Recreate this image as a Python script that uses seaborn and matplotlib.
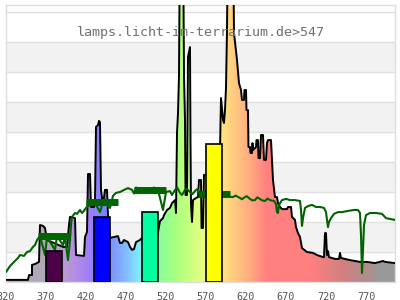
import numpy as np
import matplotlib
matplotlib.use("Agg")
import matplotlib.pyplot as plt
from matplotlib.colors import LinearSegmentedColormap
from matplotlib.patches import Polygon
import seaborn as sns

# ---- data (wavelength nm, relative intensity) ----
spectrum = [
    (320, 0.7), (347.5, 0.7), (348.75, 2.3), (352.5, 2.3), (352.5, 5.7), (356.25, 6),
    (361.25, 6.7), (362.5, 19), (366.25, 18.7), (368.75, 18), (371.25, 14),
    (391.25, 11.7), (396.25, 11.7), (398.75, 19), (400, 21.7), (406.25, 21.3),
    (407.5, 9), (417.5, 8.7), (418.75, 15), (421.25, 16.7), (422.5, 36), (425, 36),
    (426.25, 25), (430, 25), (431.25, 27.3), (432.5, 51.7), (435, 52.3), (436.25, 53.7),
    (437.5, 53.3), (438.75, 30.7), (441.25, 25.7), (443.75, 30.7), (446.25, 30.7),
    (447.5, 22.3), (450, 14.7), (455, 15), (460, 15.3), (462.5, 13), (465, 13),
    (467.5, 14), (472.5, 13.3), (475, 11.7), (477.5, 10.7), (480, 11), (482.5, 13.3),
    (487.5, 14), (490, 14.7), (508.75, 14.7), (511.25, 18.3), (512.5, 20.3),
    (516.25, 21.3), (517.5, 22.3), (521.25, 24), (525, 24.7), (527.5, 26.3),
    (531.25, 27.3), (532.5, 23), (533.1, 37.3), (533.75, 49.7), (535, 56.3),
    (536.25, 69), (537.5, 120), (541.25, 120), (542.5, 69), (543.75, 54),
    (544.4, 29), (546.25, 29), (547.5, 75), (550, 78.3), (550.6, 47.3), (551.25, 25.7),
    (552.5, 20), (553.75, 27.3), (557.5, 28), (560, 28.3), (561.25, 34), (563.75, 34),
    (564.4, 18), (566.25, 18), (567.5, 35.7), (571.25, 35.7), (587.5, 44),
    (588.75, 61.3), (591.25, 54), (592.5, 53), (593.75, 57.3), (595, 64.7),
    (596.25, 84), (597.5, 120), (603.75, 120), (605, 83), (608.75, 74), (611.25, 66.3),
    (613.75, 64), (615, 60.7), (617.5, 60.7), (618.1, 64), (620, 64), (620.6, 57.3),
    (622.5, 57.3), (623.1, 45), (625, 45), (625.6, 43), (627.5, 43), (628.1, 46.3),
    (628.75, 44), (632.5, 45), (633.1, 47.3), (635, 47.3), (635.6, 41.3), (637.5, 41.3),
    (638.75, 49), (641.25, 49), (642.5, 40.7), (645, 40.7), (646.25, 46.3),
    (647.5, 47.3), (651.25, 47.3), (652.5, 40.7), (653.75, 34), (656.25, 28.3),
    (658.75, 28.3), (660, 26.3), (662.5, 25), (665, 24.3), (671.25, 24.3), (672.5, 25),
    (676.25, 25), (677.5, 21.7), (681.25, 20.7), (682.5, 18.3), (685, 16.3),
    (687.5, 15), (690, 11.3), (696.25, 10), (703.75, 9.7), (708.75, 9), (716.25, 8.3),
    (717.5, 8.3), (718.75, 16.3), (720, 16.3), (721.25, 9), (722.5, 10.3),
    (723.75, 8.3), (731.25, 7.7), (736.25, 7.7), (737.5, 9.7), (738.75, 8),
    (750, 7.3), (762.5, 6.7), (771.25, 6.7), (781.25, 6.3), (791.25, 7), (793.75, 6.7),
    (806.25, 6.3),
]

reference = [
    (320, 3.3), (325, 5.3), (330, 6.7), (335, 8), (337.5, 9), (342.5, 8.7), (346.25, 10),
    (350, 10.3), (353.75, 11.7), (356.25, 12.3), (358.75, 14), (362.5, 15.3),
    (368.75, 9), (371.25, 15), (381.25, 10.7), (383.75, 15.3), (391.25, 12.3),
    (393.75, 15), (397.5, 7.3), (400, 14), (401.25, 19), (402.5, 21.7), (406.25, 23),
    (408.75, 22.7), (412.5, 24), (415, 23), (417.5, 23.7), (420, 24.7), (422.5, 25.3),
    (431.25, 26.3), (437.5, 23.3), (441.25, 26.7), (450, 24.7), (453.75, 28.7),
    (457.5, 29.7), (462.5, 30), (467.5, 30.7), (472.5, 31.3), (477.5, 30.7),
    (480, 29.5), (482.5, 31.5), (487.5, 31), (492.5, 30), (500, 30.3), (505, 31.5),
    (510, 30.7), (516.25, 24), (520, 30), (525, 30.3), (527.5, 29), (531.25, 30.7),
    (534, 31.5), (537.5, 29.7), (540, 29), (543.75, 30.7), (546, 31), (550, 30),
    (553, 29.3), (556.25, 30.3), (559, 31), (562.5, 29.7), (566, 29), (570, 30.5),
    (575, 29.3), (580, 28.8), (584, 30), (587.5, 29.3), (592, 29.5), (597, 28.5),
    (603.75, 28.3), (607, 28.8), (612.5, 28), (615, 27.6), (618.75, 28.3), (621, 28.6),
    (625, 27.7), (628, 27.2), (631.25, 27.3), (634, 28.2), (637.5, 27.7), (640, 27.2),
    (643.75, 27), (647, 27.8), (650, 27.3), (655, 27), (657.5, 26), (658.75, 23.3),
    (660, 23), (661.25, 25.7), (665, 27.3), (670, 27.7), (675, 27.3), (681.25, 27.3),
    (687.5, 27), (688.75, 24), (690, 18.7), (691.25, 21.3), (693.75, 24.7),
    (697.5, 25.3), (702.5, 25.7), (707.5, 25), (712.5, 25), (717.5, 24.7), (720, 23.3),
    (721.25, 20.7), (722.5, 18.3), (723.75, 20), (726.25, 21.3), (730, 22.7),
    (735, 23.3), (740, 23.3), (747.5, 23.7), (755, 24), (760, 24), (762.5, 23),
    (763.75, 15.7), (765, 3), (766.25, 10.7), (767.5, 19), (770, 22.3), (775, 23),
    (782.5, 23), (790, 22.7), (795, 21.3), (800, 21), (806.25, 20.7),
]

band_centers = [380, 440, 500, 580]
band_levels = [15.2, 26.5, 30.5, 29.2]

led_centers = [380, 440, 500, 580]
led_heights = [10.3, 21.7, 23.3, 46]
led_colors = ["#4b0048", "#0000ff", "#00ffa0", "#ffff00"]

tick_values = list(range(320, 771, 50))
title = "lamps.licht-im-terrarium.de>547"

spec_nm = [p[0] for p in spectrum]
spec_val = [p[1] for p in spectrum]
green_nm = [p[0] for p in reference]
green_val = [p[1] for p in reference]

# ---- figure ----
sns.set_style("white")
fig = plt.figure(figsize=(4, 3), dpi=100)
ax = fig.add_axes([6 / 400, 18 / 300, 389 / 400, 277 / 300])
xmin, xmax = 320, 806.25
ymax = 92.33

for lo in (10, 30, 50, 70):
    ax.axhspan(lo, lo + 10, color="#f2f2f2", zorder=0, lw=0)
for g in range(10, 91, 10):
    ax.axhline(g, color="#e0e0e0", lw=1.0, zorder=0.5)

# gradient fill under the spectrum
stops = [(320, "#b0a8b0"), (372, "#b0a8b8"), (387, "#b8a0cc"), (402, "#b890e0"),
         (422, "#a080f8"), (442, "#8080ff"), (462, "#80a8ff"), (482, "#80e0ff"),
         (494, "#80ffe0"), (507, "#80ffa0"), (532, "#a8ff80"), (562, "#e0ff80"),
         (580, "#fff880"), (597, "#ffd880"), (622, "#ffb080"), (647, "#ff8080"),
         (702, "#ff8080"), (742, "#d08080"), (781, "#a89090"), (782, "#999999"),
         (806.25, "#999999")]
cmap = LinearSegmentedColormap.from_list(
    "spec", [((w - xmin) / (xmax - xmin), c) for w, c in stops])
wl = np.linspace(xmin, xmax, 1200)
img = ax.imshow(wl[None, :], extent=[xmin, xmax, 0, 130], aspect="auto",
                cmap=cmap, vmin=xmin, vmax=xmax, zorder=2, interpolation="bilinear")
verts = [(spec_nm[0], 0)] + list(zip(spec_nm, spec_val)) + [(spec_nm[-1], 0)]
patch = Polygon(verts, closed=True, facecolor="none", edgecolor="none")
ax.add_patch(patch)
img.set_clip_path(patch)

sns.lineplot(x=spec_nm, y=spec_val, color="black", lw=1.4, sort=False,
             estimator=None, ax=ax, zorder=3)
sns.lineplot(x=green_nm, y=green_val, color="#006400", lw=1.5, sort=False,
             estimator=None, ax=ax, zorder=4)
ax.hlines(band_levels, [c - 20 for c in band_centers], [c + 20 for c in band_centers],
          color="#006400", lw=5, zorder=4)
ax.bar(led_centers, led_heights, width=20, color=led_colors, edgecolor="black",
       lw=1.2, zorder=5)

ax.text(0.5, 83.3, title, transform=ax.get_yaxis_transform(), ha="center",
        va="center", fontsize=9.6, family="DejaVu Sans Mono", color="#707070", zorder=6)

ax.set_xlim(xmin, xmax)
ax.set_ylim(0, ymax)
ax.set_xticks(tick_values)
ax.set_xticklabels([str(t) for t in tick_values], family="DejaVu Sans Mono",
                   fontsize=7.3, color="#555555")
ax.tick_params(axis="x", length=0, pad=7)
ax.set_yticks([])
for s in ("left", "right", "top", "bottom"):
    ax.spines[s].set_color("#dddddd")
    ax.spines[s].set_linewidth(1.0)

fig.savefig("out.png", dpi=100)
